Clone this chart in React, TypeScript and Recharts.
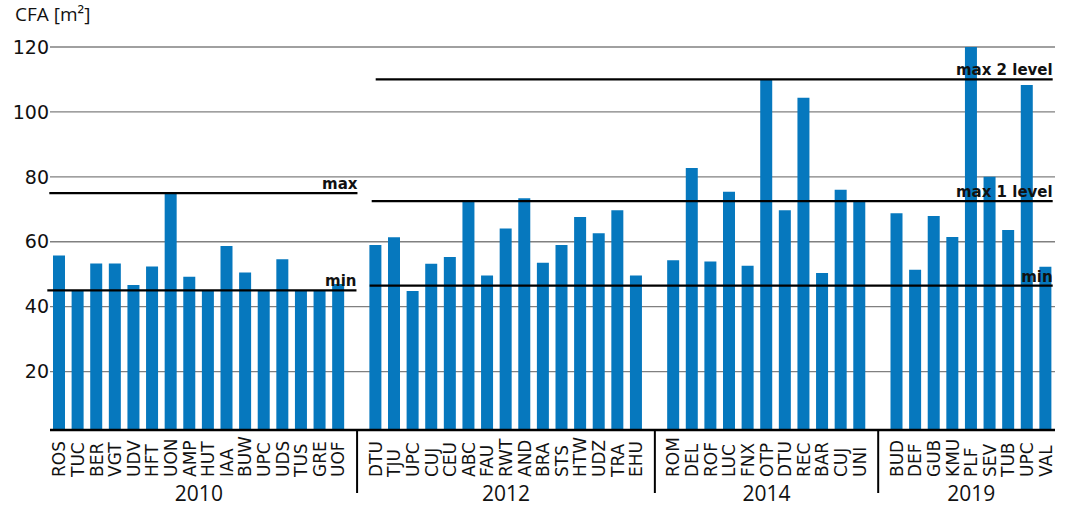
import { BarChart, Bar, XAxis, YAxis, CartesianGrid, ReferenceLine } from 'recharts';

// CFA per house, grouped by competition year
const years = ['2010', '2012', '2014', '2019'];

const codes2010 = ['ROS', 'TUC', 'BER', 'VGT', 'UDV', 'HFT', 'UON', 'AMP', 'HUT', 'IAA', 'BUW', 'UPC', 'UDS', 'TUS', 'GRE', 'UOF'];
const cfa2010 = [55.8, 45, 53.3, 53.3, 46.7, 52.4, 74.8, 49.2, 45, 58.7, 50.5, 45, 54.6, 45, 45, 47];

const codes2012 = ['DTU', 'TJU', 'UPC', 'CUJ', 'CEU', 'ABC', 'FAU', 'RWT', 'AND', 'BRA', 'STS', 'HTW', 'UDZ', 'TRA', 'EHU'];
const cfa2012 = [59, 61.4, 44.8, 53.2, 55.3, 72.6, 49.6, 64.1, 73.4, 53.5, 59, 67.6, 62.6, 69.7, 49.6];

const codes2014 = ['ROM', 'DEL', 'ROF', 'LUC', 'FNX', 'OTP', 'DTU', 'REC', 'BAR', 'CUJ', 'UNI'];
const cfa2014 = [54.3, 82.7, 53.9, 75.4, 52.6, 110, 69.7, 104.4, 50.4, 76, 72.5];

const codes2019 = ['BUD', 'DEF', 'GUB', 'KMU', 'PLF', 'SEV', 'TUB', 'UPC', 'VAL'];
const cfa2019 = [68.8, 51.4, 67.9, 61.5, 120, 80, 63.6, 108.3, 52.3];

const yTicks = [20, 40, 60, 80, 100, 120];

// limit levels
const limits2010 = { max: 75, min: 45 };
const limitsLater = { max2: 110, max1: 72.5, min: 46.5 };

type Row = {
  key: string;
  code: string;
  cfa: number | null;
  gap?: boolean;
  year?: string;
  first?: boolean;
  size?: number;
};

const groups = [
  { year: years[0], codes: codes2010, values: cfa2010 },
  { year: years[1], codes: codes2012, values: cfa2012 },
  { year: years[2], codes: codes2014, values: cfa2014 },
  { year: years[3], codes: codes2019, values: cfa2019 },
];

const key = (year: string, code: string) => `${year}-${code}`;

const data: Row[] = [];
groups.forEach((g, gi) => {
  if (gi > 0) data.push({ key: `gap-${gi}`, code: '', cfa: null, gap: true });
  g.codes.forEach((c, i) =>
    data.push({ key: key(g.year, c), code: c, cfa: g.values[i], year: g.year, first: i === 0, size: g.codes.length })
  );
});
const rowByKey = new Map(data.map((r) => [r.key, r]));

const W = 1067;
const H = 506;
const PLOT_LEFT = 50;
const PLOT_RIGHT = 1055;
const SLOT = (PLOT_RIGHT - PLOT_LEFT) / data.length;

function CategoryTick(props: any) {
  const { x, y, payload } = props;
  const row = rowByKey.get(payload.value);
  if (!row) return null;
  if (row.gap) {
    return <line x1={x} x2={x} y1={y} y2={y + 63} stroke="#000" strokeWidth={2} />;
  }
  return (
    <g>
      <text
        transform={`translate(${x + 6},${y + 47}) rotate(-90)`}
        fontSize={17}
        fontFamily="'DejaVu Sans', Verdana, sans-serif"
        fill="#111"
      >
        {row.code}
      </text>
      {row.first && (
        <text
          x={x + ((row.size ?? 1) - 1) / 2 * SLOT}
          y={y + 71}
          textAnchor="middle"
          fontSize={21}
          fontFamily="'Open Sans', sans-serif"
          fill="#111"
        >
          {row.year}
        </text>
      )}
    </g>
  );
}

const levelShape = (label: string, dLeft: number, dRight: number) => (p: any) => (
  <g>
    <line x1={p.x1 + dLeft} x2={p.x2 + dRight} y1={p.y1} y2={p.y2} stroke="#000" strokeWidth={2.2} />
    <text
      x={p.x2 + dRight}
      y={p.y1 - 4}
      textAnchor="end"
      fontSize={15}
      fontWeight="bold"
      fontFamily="'DejaVu Sans', Verdana, sans-serif"
      fill="#111"
    >
      {label}
    </text>
  </g>
);

export default function App() {
  const first2010 = key('2010', codes2010[0]);
  const last2010 = key('2010', codes2010[codes2010.length - 1]);
  const first2012 = key('2012', codes2012[0]);
  const last2019 = key('2019', codes2019[codes2019.length - 1]);

  return (
    <div style={{ position: 'relative', width: W, height: H, background: '#fff' }}>
      <style>{'body{margin:0;}'}</style>
      <div
        style={{
          position: 'absolute',
          left: 15,
          top: 3,
          fontSize: 19,
          lineHeight: '22px',
          fontFamily: "'Open Sans', sans-serif",
          color: '#111',
        }}
      >
        CFA [m²]
      </div>
      <BarChart width={W} height={H} data={data} margin={{ top: 47, right: W - PLOT_RIGHT, bottom: 0, left: 0 }}>
        <CartesianGrid vertical={false} stroke="#808080" strokeWidth={1.3} />
        <XAxis
          dataKey="key"
          type="category"
          allowDuplicatedCategory={false}
          interval={0}
          height={76}
          tickLine={false}
          tickSize={0}
          tickMargin={0}
          axisLine={{ stroke: '#000', strokeWidth: 2.5 }}
          tick={<CategoryTick />}
        />
        <YAxis
          type="number"
          domain={[2, 120]}
          ticks={yTicks}
          allowDataOverflow
          width={PLOT_LEFT}
          axisLine={false}
          tickLine={false}
          tickSize={0}
          tickMargin={1}
          tick={{ fontSize: 19, fill: '#111', fontFamily: "'DejaVu Sans', Verdana, sans-serif" }}
        />
        <Bar dataKey="cfa" fill="#0678be" barSize={12} isAnimationActive={false} />
        <ReferenceLine
          segment={[{ x: first2010, y: limits2010.max }, { x: last2010, y: limits2010.max }]}
          shape={levelShape('max', -10, 19)}
        />
        <ReferenceLine
          segment={[{ x: first2010, y: limits2010.min }, { x: last2010, y: limits2010.min }]}
          shape={levelShape('min', -12, 18)}
        />
        <ReferenceLine
          segment={[{ x: first2012, y: limitsLater.max2 }, { x: last2019, y: limitsLater.max2 }]}
          shape={levelShape('max 2 level', 0, 7)}
        />
        <ReferenceLine
          segment={[{ x: first2012, y: limitsLater.max1 }, { x: last2019, y: limitsLater.max1 }]}
          shape={levelShape('max 1 level', -4, 7)}
        />
        <ReferenceLine
          segment={[{ x: first2012, y: limitsLater.min }, { x: last2019, y: limitsLater.min }]}
          shape={levelShape('min', -6, 7)}
        />
      </BarChart>
    </div>
  );
}
